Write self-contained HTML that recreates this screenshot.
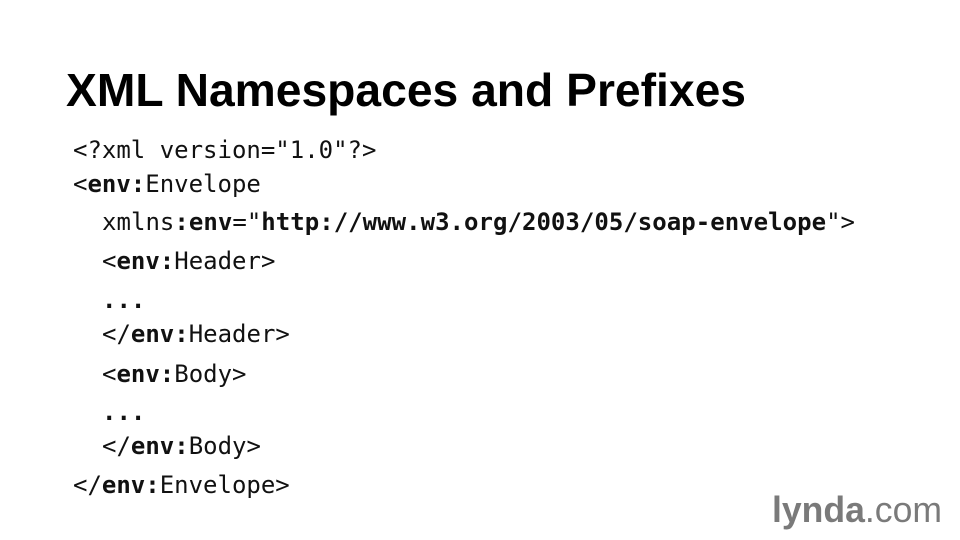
<!DOCTYPE html>
<html><head><meta charset="utf-8"><style>
html,body{margin:0;padding:0;background:#fff;width:960px;height:540px;overflow:hidden}
</style></head><body>
<svg width="960" height="540" xmlns="http://www.w3.org/2000/svg">
<rect width="960" height="540" fill="#fff"/>
<text x="66" y="106" font-family="Liberation Sans, sans-serif" font-weight="bold" font-size="46" fill="#000" textLength="680" lengthAdjust="spacingAndGlyphs">XML Namespaces and Prefixes</text>
<g font-family="DejaVu Sans Mono, Liberation Mono, monospace" font-size="24" fill="#111" xml:space="preserve">
<text x="73" y="158">&lt;?xml version="1.0"?&gt;</text>
<text x="73" y="192">&lt;<tspan font-weight="bold">env:</tspan>Envelope</text>
<text x="102" y="230" textLength="753" lengthAdjust="spacing">xmlns<tspan font-weight="bold">:env</tspan>="<tspan font-weight="bold">http://www.w3.org/2003/05/soap-envelope</tspan>"&gt;</text>
<text x="102" y="269">&lt;<tspan font-weight="bold">env:</tspan>Header&gt;</text>
<text x="102" y="308" font-weight="bold">...</text>
<text x="102" y="342">&lt;/<tspan font-weight="bold">env:</tspan>Header&gt;</text>
<text x="102" y="382">&lt;<tspan font-weight="bold">env:</tspan>Body&gt;</text>
<text x="102" y="420" font-weight="bold">...</text>
<text x="102" y="454">&lt;/<tspan font-weight="bold">env:</tspan>Body&gt;</text>
<text x="73" y="493">&lt;/<tspan font-weight="bold">env:</tspan>Envelope&gt;</text>
</g>
<text x="772" y="522" font-family="Liberation Sans, sans-serif" font-size="36" fill="#7a7a7a" textLength="170" lengthAdjust="spacingAndGlyphs"><tspan font-weight="bold">lynda</tspan>.com</text>
</svg>
</body></html>
